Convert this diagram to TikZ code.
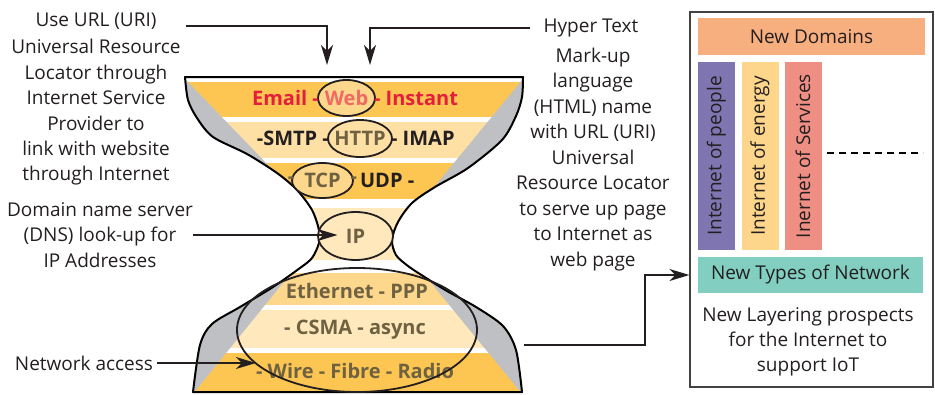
\documentclass[tikz,border=0pt]{standalone}
\usepackage{fontspec}
\setmainfont{Open Sans}
\usetikzlibrary{shapes.geometric, arrows.meta, positioning}
\definecolor{Ink}{RGB}{35, 31, 32}
\definecolor{Amber}{RGB}{253, 198, 82}
\definecolor{Sand}{RGB}{253, 215, 140}
\definecolor{Cream}{RGB}{254, 224, 165}
\definecolor{Ivory}{RGB}{254, 232, 188}
\definecolor{Slate}{RGB}{190, 192, 195}
\definecolor{Crimson}{RGB}{228, 30, 60}
\definecolor{Rose}{RGB}{240, 105, 100}
\definecolor{Umber}{RGB}{110, 98, 66}
\definecolor{Peach}{RGB}{248, 175, 128}
\definecolor{Lilac}{RGB}{127, 117, 176}
\definecolor{Butter}{RGB}{253, 214, 140}
\definecolor{Coral}{RGB}{239, 143, 132}
\definecolor{Teal}{RGB}{130, 207, 194}
% contorno del reloj de arena
\newcommand{\hourglass}{(185,77) -- plot[smooth, tension=0.5] coordinates {(523,77) (522,97) (516,116) (502,140) (468,168) (435,187) (412,203) (398,222) (392,240) (396,255) (408,266) (423,276) (447,291) (476,307) (503,326) (516,350) (522,392)} -- plot[smooth, tension=0.5] coordinates {(193,392) (200,345) (212,324) (240,307) (273,287) (300,268) (312,258) (319,243) (319,230) (312,210) (297,190) (277,173) (247,154) (213,137) (197,118) (188,100) (185,77)} -- cycle}

\begin{document}
\begin{tikzpicture}[x=1pt, y=-1pt,
        note/.style={align=center, font=\fontsize{19}{25.4}\selectfont, text=Ink, inner sep=0pt},
        layer/.style={font=\fontsize{20}{22}\selectfont\bfseries, text=Ink, inner sep=0pt},
        ring/.style={ellipse, draw=Ink, line width=1.8pt, inner sep=0pt},
        arrow/.style={line width=1.8pt, draw=Ink, -{Stealth[length=20pt, width=12pt, inset=6pt]}},
        tile/.style={rectangle, inner sep=0pt, font=\fontsize{19}{22}\selectfont, text=Ink},
        strip/.style={tile, rotate=90, minimum width=188pt, minimum height=37pt}
    ]
        \useasboundingbox (0,0) rectangle (935,394);

        % ================= RELOJ DE ARENA: CAPAS =================
        \begin{scope}
            \clip \hourglass;
            \fill[Amber] (150,82) rectangle (560,117);
            \fill[Cream] (150,122) rectangle (560,158);
            \fill[Amber] (150,163) rectangle (560,199);
            \fill[Ivory] (150,208) rectangle (560,260);
            \fill[Sand] (150,273) rectangle (560,305);
            \fill[Ivory] (150,310) rectangle (560,348);
            \fill[Amber] (150,353) rectangle (560,395);
            % cunas grises
            \fill[Slate] (150,60) -- (186,60) -- (186,80) -- (298,196) -- (150,196) -- cycle;
            \fill[Slate] (560,60) -- (523,60) -- (523,79) -- (430,192) -- (560,192) -- cycle;
            \fill[Slate] (150,273) -- (291,273) -- (192,395) -- (150,395) -- cycle;
            \fill[Slate] (423,273) -- (560,273) -- (560,395) -- (523,395) -- cycle;
        \end{scope}
        \draw[line width=2pt, line join=round] \hourglass;

        \node[ring, fill=Sand, minimum width=57pt, minimum height=36pt] (web) at (346.5,98) {};
        \node[layer, text=Rose] (webtxt) at (web) {Web};
        \node[layer, text=Crimson, left=-2pt of web] (email) {Email -};
        \node[layer, text=Crimson, right=-2pt of web] (instant) {- Instant};

        \node[ring, fill=Cream, minimum width=64pt, minimum height=37pt] (http) at (360,138.5) {};
        \node[layer, text=Umber] (httptxt) at (http) {HTTP};
        \node[layer, left=-2pt of http] (smtp) {-SMTP -};
        \node[layer, right=-2pt of http] (imap) {- IMAP};

        \node[ring, fill=Sand, minimum width=61pt, minimum height=35pt] (tcp) at (322.5,180.5) {};
        \node[layer, text=Umber] (tcptxt) at (tcp) {TCP};
        \node[layer, text=Umber] at (tcp.west) {-};
        \node[layer, text=Umber] at (tcp.east) {-};
        \node[layer, right=6pt of tcp] (udp) {UDP -};

        \node[ring, fill=Ivory, minimum width=75pt, minimum height=48pt] (ip) at (355.5,236) {};
        \node[layer, text=Umber] (iptxt) at (ip) {IP};

        \node[layer, text=Umber] (ethernet) at (357,291) {Ethernet - PPP};
        \node[layer, text=Umber] (csma) at (355,330) {- CSMA - async};
        \node[layer, text=Umber] (wire) at (355,371) {- Wire - Fibre - Radio};
        \node[ring, minimum width=240pt, minimum height=124pt] (access) at (357,330) {};

        % ================= NOTAS A LA IZQUIERDA =================
        \node[note] (urltitle) at (96,21) {Use URL (URI)};
        \node[note] (urlbody) at (96,112.5) {Universal Resource\\Locator through\\Internet Service\\Provider to\\link with website\\through Internet};
        \node[note] (dnsnote) at (100,235) {Domain name server\\(DNS) look-up for\\IP Addresses};
        \node[note] (netnote) at (84,363) {Network access};

        \coordinate (urltip) at (327,65);
        \coordinate (htmltip) at (370,65);
        \draw[arrow] (urltitle.base east) ++(29,0) -| (urltip);
        \draw[arrow, shorten >=18pt] (dnsnote.east) -- (dnsnote.east -| ip.center);
        \draw[arrow] (netnote.east) ++(4,0) -- (netnote.east -| wire.west);

        % ================= NOTA A LA DERECHA =================
        \node[note] (htmltitle) at (591,28) {Hyper Text};
        \node[note, font=\fontsize{19}{25.5}\selectfont] (htmlbody) at (593,159.5) {Mark-up\\language\\(HTML) name\\with URL (URI)\\Universal\\Resource Locator\\to serve up page\\to Internet as\\web page};
        \draw[arrow] (htmltitle.west) ++(-13,0) -| (htmltip);

        % ================= CAJA: NUEVAS CAPAS =================
        \node[draw=Ink!85, line width=1.2pt, inner sep=0pt, minimum width=243pt, minimum height=375pt] (frame) at (811.5,199.5) {};
        \node[tile, fill=Peach, minimum width=227pt, minimum height=37pt] (domains) at (811.5,36.5) {New Domains};
        \node[strip, fill=Lilac] (people) at (716.5,156) {Internet of people};
        \node[strip, fill=Butter] (energy) at (760,156) {Internet of energy};
        \node[strip, fill=Coral] (services) at (803,156) {Inernet of Services};
        \draw[line width=1.5pt, dash pattern=on 7pt off 5pt] (827,153) -- (923,153);
        \node[tile, fill=Teal, minimum width=225pt, minimum height=36pt] (newtypes) at (810.5,275) {New Types of Network};
        \node[note, font=\fontsize{19}{25}\selectfont] (prospects) at (808,342) {New Layering prospects\\for the Internet to\\support IoT};

        \coordinate (glassout) at (524,345);
        \draw[arrow] (glassout) -- ++(121,0) |- (frame.west |- newtypes);
    \end{tikzpicture}
\end{document}
